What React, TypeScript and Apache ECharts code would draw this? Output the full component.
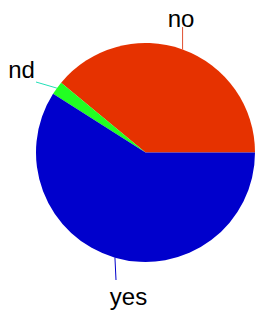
import React, { useEffect, useRef } from "react";
import * as echarts from "echarts";

const categories = ["no", "nd", "yes"];
const values = [39, 2, 59];
const sliceColors = ["#e63200", "#22ff22", "#0000cc"];
const lineColors = ["#e05030", "#22e0b8", "#0000cc"];
// label anchor positions (center of text) and label-line end points
const labelPos = [
  [181, 18],
  [21.5, 69.5],
  [128.5, 296.5],
];
const lineEnds = [
  [null, 27],
  [36, 82],
  [116, 280],
];

export default function App() {
  const ref = useRef<HTMLDivElement>(null);
  useEffect(() => {
    if (!ref.current) return;
    const chart = echarts.init(ref.current, undefined, { renderer: "svg" });
    const data = categories.map((name, i) => ({
      name,
      value: values[i],
      itemStyle: { color: sliceColors[i] },
      labelLine: { lineStyle: { color: lineColors[i], width: 1 } },
    }));
    chart.setOption({
      animation: false,
      backgroundColor: "#ffffff",
      series: [
        {
          type: "pie",
          center: [145.5, 152.5],
          radius: 109.5,
          startAngle: 0,
          clockwise: false,
          avoidLabelOverlap: false,
          itemStyle: { borderWidth: 0 },
          emphasis: { disabled: true },
          label: {
            show: true,
            position: "outside",
            formatter: "{b}",
            color: "#000000",
            fontSize: 24,
            fontFamily: "Liberation Sans, Arial, sans-serif",
          },
          labelLine: { show: true, length: 10, length2: 0, smooth: false },
          labelLayout: (params: any) => {
            const i = params.dataIndex;
            const pts = params.labelLinePoints;
            const p0 = pts && pts[0] ? pts[0] : [0, 0];
            const e = lineEnds[i];
            const end = [e[0] == null ? p0[0] : e[0], e[1]];
            return {
              x: labelPos[i][0],
              y: labelPos[i][1],
              align: "center",
              verticalAlign: "middle",
              labelLinePoints: [p0, end, end],
            };
          },
          data,
        },
      ],
    });
    return () => chart.dispose();
  }, []);
  return (
    <div
      ref={ref}
      style={{ position: "absolute", left: 0, top: 0, width: 256, height: 312 }}
    />
  );
}
